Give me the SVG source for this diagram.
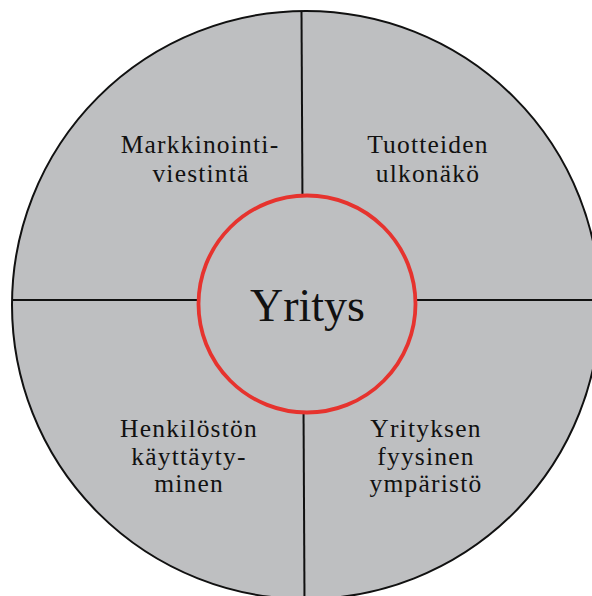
<svg xmlns="http://www.w3.org/2000/svg" width="592" height="596" viewBox="0 0 592 596">
<style>
.lbl{font-family:"Liberation Serif","Times New Roman",serif;font-size:25.5px;letter-spacing:1.2px;fill:#111;text-anchor:middle}
.core{font-family:"Liberation Serif","Times New Roman",serif;font-size:46px;fill:#111;text-anchor:middle}
.div{stroke:#111;stroke-width:2;fill:none}
</style>
<rect width="592" height="596" fill="#ffffff"/>
<g id="outer">
<circle cx="306" cy="305" r="294" fill="#bebfc1" stroke="#111" stroke-width="2"/>
</g>
<g id="connectors">
<line class="div" x1="301.5" y1="11" x2="304.5" y2="600"/>
<line class="div" x1="12" y1="300" x2="600" y2="300"/>
</g>
<g id="center">
<circle cx="307" cy="304" r="108.5" fill="#bebfc1" stroke="#e6332e" stroke-width="3.8"/>
<text class="core" x="307.5" y="321">Yritys</text>
</g>
<g id="q1">
<text class="lbl" x="200" y="152.5">Markkinointi-</text>
<text class="lbl" x="201" y="181.5">viestintä</text>
</g>
<g id="q2">
<text class="lbl" x="428" y="153">Tuotteiden</text>
<text class="lbl" x="428" y="181.5">ulkonäkö</text>
</g>
<g id="q3">
<text class="lbl" x="189" y="437">Henkilöstön</text>
<text class="lbl" x="189" y="465">käyttäyty-</text>
<text class="lbl" x="189" y="492">minen</text>
</g>
<g id="q4">
<text class="lbl" x="426" y="437">Yrityksen</text>
<text class="lbl" x="426" y="465">fyysinen</text>
<text class="lbl" x="426" y="492">ympäristö</text>
</g>
</svg>
